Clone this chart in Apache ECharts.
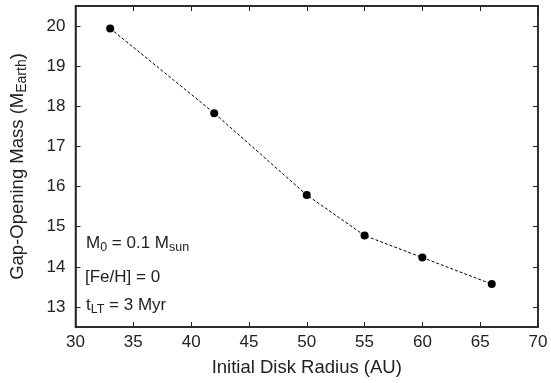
<!DOCTYPE html>
<html><head><meta charset="utf-8">
<script src="https://cdn.jsdelivr.net/npm/echarts@6/dist/echarts.min.js"></script>
<style>html,body{margin:0;padding:0;background:#fff}#c{width:551px;height:383px}</style>
</head><body><div id="c"></div>
<script>
const radius = [33, 42, 50, 55, 60, 66];
const gapMass = [19.94, 17.83, 15.79, 14.78, 14.23, 13.57];
const xTicks = [30, 35, 40, 45, 50, 55, 60, 65, 70];
const yTicks = [13, 14, 15, 16, 17, 18, 19, 20];

const FONT = 'Liberation Sans';
const chart = echarts.init(document.getElementById('c'), null, {renderer: 'canvas'});
const axisLineStyle = {color: '#222', width: 1.5};
const tickStyle = {color: '#222', width: 1};
const subRich = {
  n: {fontFamily: FONT, fontSize: 17, fill: '#222', color: '#222', lineHeight: 22},
  s: {fontFamily: FONT, fontSize: 12.5, fill: '#222', color: '#222', verticalAlign: 'bottom'}
};
chart.setOption({
  animation: false,
  grid: {left: 74, right: 13, top: 6, bottom: 56, show: true, borderColor: '#222', borderWidth: 1.5},
  xAxis: [{
    type: 'value', min: 30, max: 70, interval: 5,
    name: 'Initial Disk Radius (AU)', nameLocation: 'middle', nameGap: 31,
    nameTextStyle: {fontFamily: FONT, fontSize: 18.5, color: '#222'},
    axisLine: {show: true, lineStyle: axisLineStyle},
    axisTick: {show: true, inside: true, length: 5, lineStyle: tickStyle},
    axisLabel: {fontFamily: FONT, fontSize: 17, color: '#222', margin: 7},
    splitLine: {show: false}
  }, {
    type: 'value', min: 30, max: 70, interval: 5, position: 'top',
    axisLine: {show: true, lineStyle: axisLineStyle},
    axisTick: {show: true, inside: true, length: 5, lineStyle: tickStyle},
    axisLabel: {show: false}, splitLine: {show: false}
  }],
  yAxis: [{
    type: 'value', min: 12.5, max: 20.5,
    name: '{n|Gap-Opening Mass (M}{s|Earth}{n|)}', nameLocation: 'middle', nameGap: 46,
    nameRotate: 90,
    nameTextStyle: {fontFamily: FONT, color: '#222',
      rich: {n: {fontFamily: FONT, fontSize: 18.5, color: '#222', lineHeight: 24},
             s: {fontFamily: FONT, fontSize: 14, color: '#222', verticalAlign: 'bottom'}}},
    axisLine: {show: true, lineStyle: axisLineStyle},
    axisTick: {show: true, inside: true, length: 5, lineStyle: tickStyle, customValues: yTicks},
    axisLabel: {fontFamily: FONT, fontSize: 17, color: '#222', margin: 10, customValues: yTicks},
    splitLine: {show: false}
  }, {
    type: 'value', min: 12.5, max: 20.5, position: 'right',
    axisLine: {show: true, lineStyle: axisLineStyle},
    axisTick: {show: true, inside: true, length: 5, lineStyle: tickStyle, customValues: yTicks},
    axisLabel: {show: false}, splitLine: {show: false}
  }],
  series: [{
    type: 'line', xAxisIndex: 0, yAxisIndex: 0,
    data: radius.map((r, i) => [r, gapMass[i]]),
    symbol: 'circle', symbolSize: 8,
    itemStyle: {color: '#000'},
    lineStyle: {color: '#000', width: 1, type: [3, 2]}
  }],
  graphic: [
    {type: 'text', left: 86, top: 235, style: {
      text: '{n|M}{s|0}{n| = 0.1 M}{s|sun}', font: '17px ' + FONT, rich: subRich}},
    {type: 'text', left: 85, top: 269, style: {
      text: '[Fe/H] = 0', font: '17px ' + FONT, fill: '#222'}},
    {type: 'text', left: 86, top: 297, style: {
      text: '{n|t}{s|LT}{n| = 3 Myr}', font: '17px ' + FONT, rich: subRich}}
  ]
});
</script></body></html>
